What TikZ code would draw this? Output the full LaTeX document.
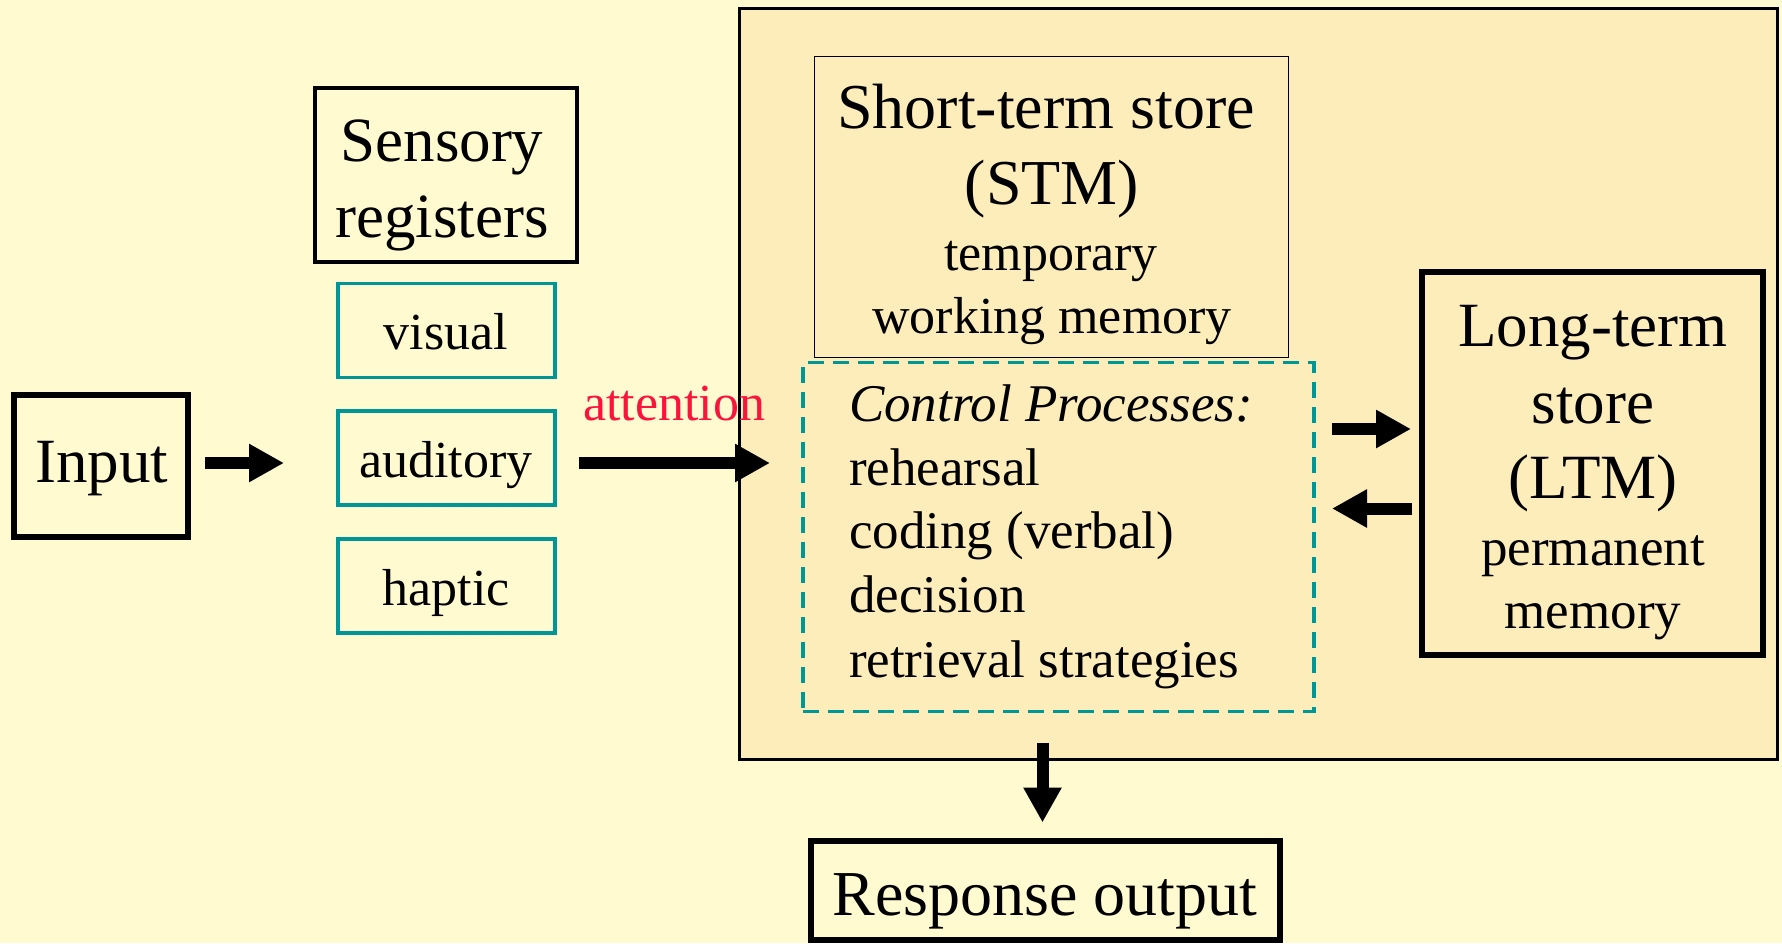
\documentclass[tikz,border=0pt]{standalone}
\usepackage{fontspec}
\setmainfont{Liberation Serif}
\usetikzlibrary{arrows.meta}
\definecolor{bgyellow}{RGB}{255,250,208}
\definecolor{boxfill}{RGB}{253,237,187}
\definecolor{tealc}{RGB}{0,150,150}
\definecolor{attred}{RGB}{250,20,60}
\newcommand{\fsz}[1]{\fontsize{#1}{#1}\selectfont}
\tikzset{
  box/.style={draw, rectangle, inner sep=0pt, outer sep=0pt},
  heavybox/.style={box, line width=6pt},
  sensbox/.style={box, line width=4pt},
  tealbox/.style={box, draw=tealc, line width=3.5pt, minimum width=217pt, minimum height=94pt},
  txt/.style={inner sep=0pt, outer sep=0pt, anchor=base},
  txtw/.style={inner sep=0pt, outer sep=0pt, anchor=base west},
  bigarrow/.style={line width=12pt, -{Triangle[length=35pt,width=36pt]}},
}
\begin{document}
\begin{tikzpicture}[x=1pt,y=-1pt]
\fill[bgyellow] (0,0) rectangle (1782,943);
\useasboundingbox (0,0) rectangle (1782,943);

% outer STM region
\node[box, line width=3pt, fill=boxfill, minimum width=1038pt, minimum height=751pt] (outer) at (1258.5,383.5) {};

% boxes
\node[heavybox, minimum width=174pt, minimum height=142pt] (input) at (101,466) {};
\node[sensbox, minimum width=262pt, minimum height=174pt] (sens) at (446,175) {};
\node[tealbox] (vis) at (446.5,330.5) {};
\node[tealbox] (aud) at (446.5,458) {};
\node[tealbox] (hap) at (446.5,586) {};
\node[box, line width=1.6pt, minimum width=474pt, minimum height=301pt] (stm) at (1051.5,207) {};
\node[box, draw=tealc, line width=3.6pt, dash pattern=on 16pt off 9pt, minimum width=511pt, minimum height=349pt] (cp) at (1058.5,537) {};
\node[heavybox, minimum width=341pt, minimum height=383pt] (ltm) at (1592.5,463) {};
\node[heavybox, minimum width=469pt, minimum height=99pt] (resp) at (1045.5,890) {};

% texts
\node[txt, font=\fsz{63}] (tinput) at (102,482) {Input};
\node[txt, font=\fsz{63}] (tsens1) at (442,161) {Sensory};
\node[txt, font=\fsz{63}] (tsens2) at (442,237) {registers};
\node[txt, font=\fsz{52}] (tvis) at (446,349) {visual};
\node[txt, font=\fsz{52}] (taud) at (446,477) {auditory};
\node[txt, font=\fsz{52}] (thap) at (446,605) {haptic};
\node[txtw, font=\fsz{52}, text=attred] (tatt) at (583,420) {attention};

\node[txt, font=\fsz{64}] (tstm1) at (1046,128) {Short-term store};
\node[txt, font=\fsz{64}] (tstm2) at (1052,204) {(STM)};
\node[txt, font=\fsz{52}] (tstm3) at (1051,270) {temporary};
\node[txt, font=\fsz{52}] (tstm4) at (1052,333) {working memory};

\node[txtw, font=\fsz{53}\itshape] (tcp0) at (849,421) {Control Processes:};
\node[txtw, font=\fsz{53}] (tcp1) at (849,485) {rehearsal};
\node[txtw, font=\fsz{53}] (tcp2) at (849,548) {coding (verbal)};
\node[txtw, font=\fsz{53}] (tcp3) at (849,612) {decision};
\node[txtw, font=\fsz{53}] (tcp4) at (849,677) {retrieval strategies};

\node[txt, font=\fsz{63}] (tltm1) at (1593,346) {Long-term};
\node[txt, font=\fsz{63}] (tltm2) at (1593,423) {store};
\node[txt, font=\fsz{63}] (tltm3) at (1593,498) {(LTM)};
\node[txt, font=\fsz{53}] (tltm4) at (1593,565) {permanent};
\node[txt, font=\fsz{53}] (tltm5) at (1593,628) {memory};

\node[txt, font=\fsz{64}] (tresp) at (1045,915) {Response output};

% connectors
\draw[bigarrow] ([xshift=17pt,yshift=3pt]input.east) -- ([xshift=-54pt,yshift=-5pt]aud.west);
\coordinate (attstart) at ([xshift=24pt,yshift=-5pt]aud.east);
\draw[bigarrow, shorten >=33pt] (attstart) -- (attstart -| cp.west);
\coordinate (toltm) at ([xshift=18pt,yshift=108pt]cp.east);
\draw[bigarrow, shorten >=11pt] (toltm) -- (toltm -| ltm.west);
\coordinate (fromltm) at ([xshift=-10pt,yshift=-45.5pt]ltm.west);
\draw[bigarrow, shorten >=18pt] (fromltm) -- (fromltm -| cp.east);
\draw[bigarrow] ([xshift=-3pt,yshift=16pt]resp.north |- outer.south) -- ([xshift=-3pt,yshift=18pt]resp.north);
\end{tikzpicture}
\end{document}
